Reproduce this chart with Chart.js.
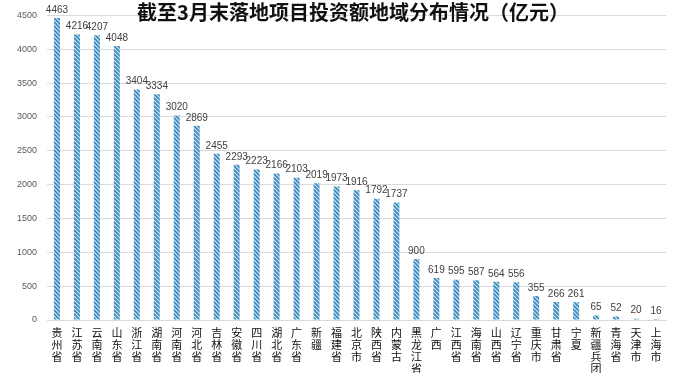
<!DOCTYPE html>
<html>
<head>
<meta charset="utf-8">
<script src="https://cdn.jsdelivr.net/npm/chart.js@4/dist/chart.umd.min.js"></script>
<style>
html,body{margin:0;padding:0;background:#fff;}
#wrap{width:686px;height:373px;position:relative;}
</style>
</head>
<body>
<div id="wrap"><canvas id="c" width="686" height="373"></canvas></div>
<script>
const chartTitle = '截至3月末落地项目投资额地域分布情况（亿元）';
const categories = ['贵州省','江苏省','云南省','山东省','浙江省','湖南省','河南省','河北省','吉林省','安徽省','四川省','湖北省','广东省','新疆','福建省','北京市','陕西省','内蒙古','黑龙江省','广西','江西省','海南省','山西省','辽宁省','重庆市','甘肃省','宁夏','新疆兵团','青海省','天津市','上海市'];
const investment = [4463,4216,4207,4048,3404,3334,3020,2869,2455,2293,2223,2166,2103,2019,1973,1916,1792,1737,900,619,595,587,564,556,355,266,261,65,52,20,16];
const yTicks = [0,500,1000,1500,2000,2500,3000,3500,4000,4500];

function makePattern(){
  const c = document.createElement('canvas');
  c.width = 4; c.height = 4;
  const x = c.getContext('2d');
  x.fillStyle = '#d3e9f5';
  x.fillRect(0,0,4,4);
  x.strokeStyle = '#3789bd';
  x.lineWidth = 1.7;
  x.beginPath();
  x.moveTo(-1,-1); x.lineTo(5,5);
  x.moveTo(-1,3); x.lineTo(1,5);
  x.moveTo(3,-1); x.lineTo(5,1);
  x.stroke();
  return x.createPattern(c,'repeat');
}

const titlePlugin = {
  id: 'customTitle',
  afterDraw(chart){
    const ctx = chart.ctx;
    ctx.save();
    ctx.font = 'bold 20px "Noto Sans CJK SC"';
    ctx.fillStyle = '#111';
    ctx.textAlign = 'center';
    ctx.textBaseline = 'middle';
    ctx.fillText(chartTitle, 353, 12);
    ctx.restore();
  }
};

const valueLabels = {
  id: 'valueLabels',
  afterDatasetsDraw(chart){
    const ctx = chart.ctx;
    const meta = chart.getDatasetMeta(0);
    ctx.save();
    ctx.font = '10px "Liberation Sans"';
    ctx.fillStyle = '#404040';
    ctx.textAlign = 'center';
    ctx.textBaseline = 'bottom';
    meta.data.forEach((bar,i)=>{
      ctx.fillText(String(investment[i]), bar.x, bar.y - 3);
    });
    ctx.restore();
  }
};

new Chart(document.getElementById('c'), {
  type: 'bar',
  data: {
    labels: categories.map(s => s.split('')),
    datasets: [{
      data: investment,
      backgroundColor: makePattern(),
      borderWidth: 0,
      categoryPercentage: 1.0,
      barPercentage: 0.3
    }]
  },
  options: {
    responsive: false,
    animation: false,
    devicePixelRatio: 1,
    layout: { padding: { top: 15, right: 20, left: 0, bottom: 0 } },
    plugins: { legend: { display: false }, title: { display: false }, tooltip: { enabled: false } },
    scales: {
      x: {
        grid: { display: false, drawTicks: false },
        border: { display: true, color: '#d9d9d9' },
        ticks: {
          autoSkip: false, maxRotation: 0, minRotation: 0, padding: 7,
          color: '#111',
          font: { family: '"Noto Sans CJK SC"', size: 11, lineHeight: 1.08 }
        },
        afterFit(scale){ scale.height = 53; }
      },
      y: {
        min: 0, max: 4500,
        grid: { color: '#d9d9d9', drawTicks: false },
        border: { display: false },
        afterBuildTicks(scale){ scale.ticks = yTicks.map(v => ({ value: v })); },
        ticks: {
          padding: 10,
          color: '#595959',
          font: { family: '"Liberation Sans"', size: 9 },
          callback: (v) => String(v)
        },
        afterFit(scale){ scale.width = 47; }
      }
    }
  },
  plugins: [titlePlugin, valueLabels]
});
</script>
</body>
</html>
